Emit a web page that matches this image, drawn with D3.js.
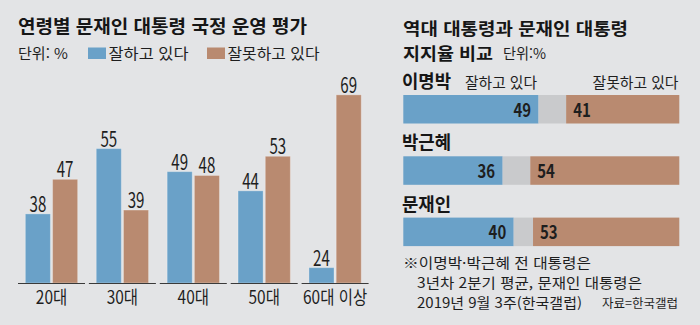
<!DOCTYPE html>
<html lang="ko">
<head>
<meta charset="utf-8">
<script src="https://cdn.jsdelivr.net/npm/d3@7"></script>
<style>
  html, body { margin: 0; padding: 0; background: #e3e4e6; }
  svg { display: block; }
  text { font-family: "Noto Sans CJK KR", "Noto Sans", sans-serif; fill: #1e1e1e; }
  .title { fill: #161616; font-weight: 700; }
</style>
</head>
<body>
<svg id="chart" width="700" height="325"></svg>
<script>
// 연령별 국정 운영 평가 (단위: %)
const ageGroups = ["20대", "30대", "40대", "50대", "60대 이상"];
const approveByAge = [38, 55, 49, 44, 24];
const disapproveByAge = [47, 39, 48, 53, 69];

// 역대 대통령 지지율 비교 (단위: %)
const presidents = ["이명박", "박근혜", "문재인"];
const presApprove = [49, 36, 40];
const presDisapprove = [41, 54, 53];

const seriesKeys = ["잘하고 있다", "잘못하고 있다"];
const colors = { good: "#6aa1c8", bad: "#b98a70", mid: "#c9cacc" };

const svg = d3.select("#chart");
svg.append("rect").attr("width", 700).attr("height", 325).attr("fill", "#e3e4e6");

// 고정 문구를 주어진 폭에 맞춤
function fit(sel, width) {
  return sel.attr("textLength", width).attr("lengthAdjust", "spacingAndGlyphs");
}
// 좁은 숫자체 흉내: 기준점 이동 후 가로만 축소
function narrow(sel, xf, yf, sx) {
  return sel.attr("x", 0).attr("y", 0)
    .attr("transform", (d, i) => `translate(${xf(d, i)},${yf(d, i)}) scale(${sx},1)`);
}
// 여러 줄 문구
function multiline(parent, lines, cls, size) {
  const g = parent.append("g").attr("font-size", size);
  lines.forEach(l => {
    const t = g.append("text").attr("x", l.x).attr("y", l.y).text(l.text);
    if (cls) t.attr("class", cls);
    fit(t, l.w);
  });
  return g;
}

// ---------- 왼쪽: 연령별 막대 ----------
const left = svg.append("g");

fit(left.append("text").attr("class", "title")
  .attr("x", 18).attr("y", 33)
  .attr("font-size", 18)
  .text("연령별 문재인 대통령 국정 운영 평가"), 289);

const legend = left.append("g").attr("font-size", 15);
fit(legend.append("text").attr("x", 18).attr("y", 59).text("단위: %"), 50);
const legendItems = [
  { x: 88, w: 80, color: colors.good, label: seriesKeys[0] },
  { x: 207, w: 92, color: colors.bad, label: seriesKeys[1] }
];
legend.selectAll("g.item").data(legendItems).join("g").attr("class", "item")
  .each(function (d) {
    const g = d3.select(this);
    g.append("rect").attr("x", d.x).attr("y", 47.5).attr("width", 18).attr("height", 11.5).attr("fill", d.color);
    fit(g.append("text").attr("x", d.x + 20.5).attr("y", 59).text(d.label), d.w);
  });

const baseY = 283;
const x0 = d3.scaleBand().domain(ageGroups).range([18, 368.6]).paddingInner(0.055).paddingOuter(0);
const x1 = d3.scaleBand().domain(["good", "bad"]).range([0, x0.bandwidth()]).paddingInner(0.08).paddingOuter(0.27);
const y = d3.scaleLinear().domain([20, 70]).range([baseY, baseY - 50 * 3.84]);

const groups = ageGroups.map((g, i) => ({
  group: g,
  bars: [
    { key: "good", value: approveByAge[i] },
    { key: "bad", value: disapproveByAge[i] }
  ]
}));

const gGroups = left.selectAll("g.grp").data(groups).join("g").attr("class", "grp")
  .attr("transform", d => `translate(${x0(d.group)},0)`);

gGroups.selectAll("rect").data(d => d.bars).join("rect")
  .attr("x", d => x1(d.key))
  .attr("y", d => y(d.value))
  .attr("width", x1.bandwidth())
  .attr("height", d => baseY - y(d.value))
  .attr("fill", d => colors[d.key])
  .attr("stroke", "rgba(255,255,255,0.28)")
  .attr("stroke-width", 1);

narrow(
  gGroups.selectAll("text.val").data(d => d.bars).join("text").attr("class", "val")
    .attr("text-anchor", "middle")
    .attr("font-size", 21)
    .text(d => d.value),
  d => x1(d.key) + x1.bandwidth() / 2,
  d => y(d.value) - 2,
  0.72
);

// 그룹별 기준선
gGroups.append("line")
  .attr("x1", 0).attr("x2", x0.bandwidth())
  .attr("y1", baseY + 0.5).attr("y2", baseY + 0.5)
  .attr("stroke", "#3a3a3a").attr("stroke-width", 1);

const xAxis = d3.axisBottom(x0).tickSize(0).tickPadding(0);
const axisG = left.append("g").attr("transform", `translate(0,${baseY})`).call(xAxis);
axisG.select(".domain").remove();
axisG.selectAll("text")
  .attr("font-size", 18)
  .attr("font-family", "\"Noto Sans CJK KR\", sans-serif")
  .attr("fill", "#1e1e1e")
  .attr("dy", null)
  .attr("y", 0)
  .attr("transform", "translate(0,21) scale(0.86,1)");

// ---------- 오른쪽: 대통령별 지지율 ----------
const right = svg.append("g");

multiline(right, [
  { x: 403, y: 35, w: 225, text: "역대 대통령과 문재인 대통령" },
  { x: 403, y: 60, w: 90, text: "지지율 비교" }
], "title", 17.2);
fit(right.append("text")
  .attr("x", 503).attr("y", 59)
  .attr("font-size", 15)
  .text("단위:%"), 43);

const xs = d3.scaleLinear().domain([0, 100]).range([403.3, 679.3]);
const yb = d3.scaleBand().domain(presidents).range([95, 246.1]).paddingInner(0.535).paddingOuter(0);

const rows = presidents.map((p, i) => {
  const good = presApprove[i];
  const bad = presDisapprove[i];
  const mid = 100 - good - bad;
  return {
    name: p,
    segs: [
      { key: "good", start: 0, end: good, value: good },
      { key: "mid", start: good, end: good + mid, value: mid },
      { key: "bad", start: good + mid, end: 100, value: bad }
    ]
  };
});

const gRows = right.selectAll("g.row").data(rows).join("g").attr("class", "row")
  .attr("transform", d => `translate(0,${yb(d.name)})`);

fit(gRows.append("text").attr("class", "title")
  .attr("x", 402).attr("y", -7)
  .attr("font-size", 18)
  .text(d => d.name), 49);

gRows.selectAll("rect").data(d => d.segs).join("rect")
  .attr("x", d => xs(d.start))
  .attr("y", 0)
  .attr("width", d => xs(d.end) - xs(d.start))
  .attr("height", yb.bandwidth())
  .attr("fill", d => colors[d.key]);

narrow(
  gRows.selectAll("text.val").data(d => d.segs.filter(s => s.key !== "mid")).join("text").attr("class", "val")
    .attr("text-anchor", d => d.key === "good" ? "end" : "start")
    .attr("font-size", 18).attr("font-weight", 700)
    .text(d => d.value),
  d => d.key === "good" ? xs(d.end) - 7.5 : xs(d.start) + 7,
  () => yb.bandwidth() / 2 + 7.3,
  0.83
);

// 첫 줄 막대의 범례 문구
fit(right.append("text")
  .attr("x", 465).attr("y", 88).attr("font-size", 15)
  .text(seriesKeys[0]), 72);
fit(right.append("text")
  .attr("x", 592.5).attr("y", 88).attr("font-size", 15)
  .text(seriesKeys[1]), 86);

// 주석 및 출처
multiline(right, [
  { x: 403, y: 267.5, w: 188, text: "※이명박·박근혜 전 대통령은" },
  { x: 417, y: 287.5, w: 225, text: "3년차 2분기 평균, 문재인 대통령은" },
  { x: 417, y: 307.5, w: 165, text: "2019년 9월 3주(한국갤럽)" }
], null, 13.8);
fit(right.append("text").attr("x", 602).attr("y", 307.5).attr("font-size", 12.5)
  .text("자료=한국갤럽"), 76);
</script>
</body>
</html>
